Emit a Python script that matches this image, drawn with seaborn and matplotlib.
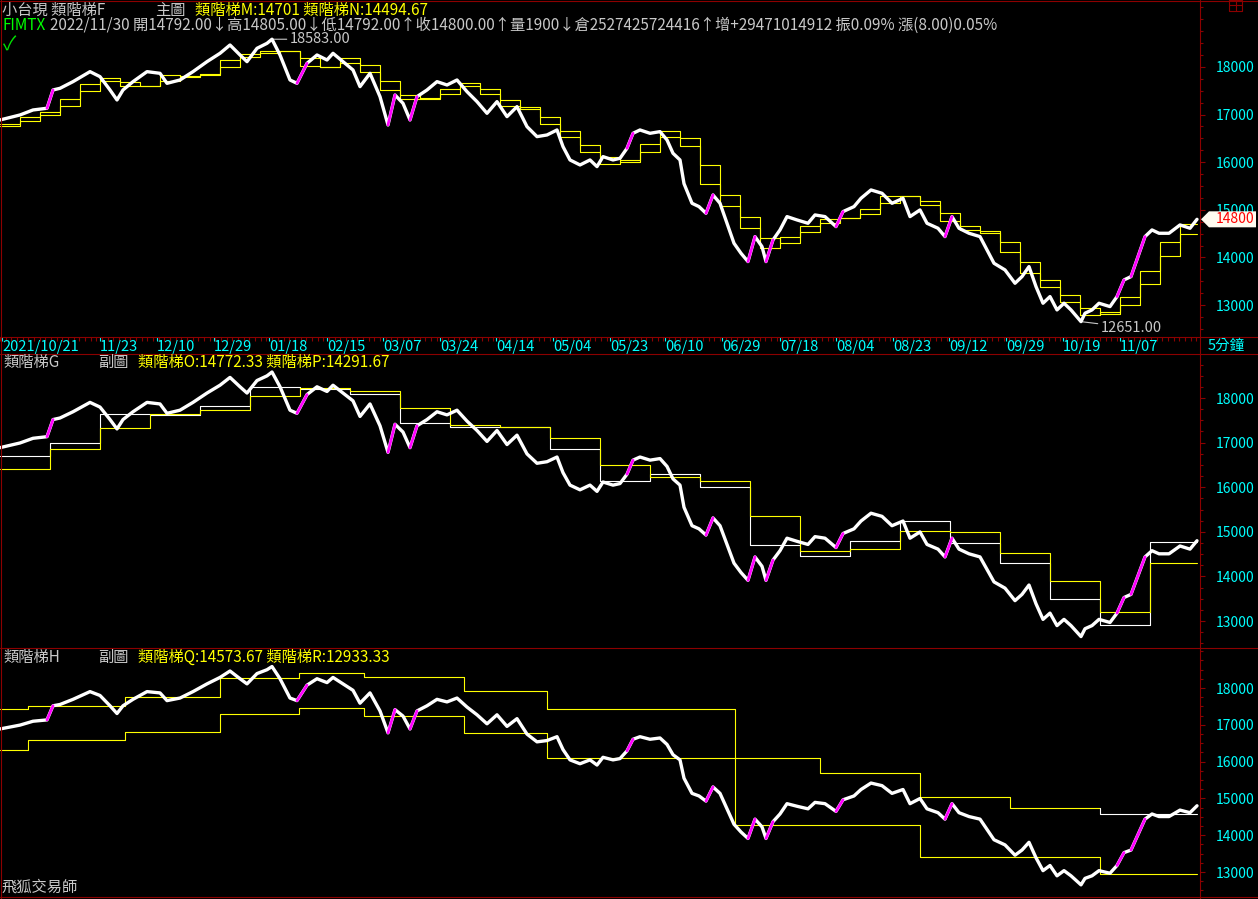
import numpy as np
import seaborn as sns
import matplotlib.pyplot as plt
from matplotlib.lines import Line2D
from matplotlib.patches import Polygon
from matplotlib.transforms import IdentityTransform
from matplotlib.ticker import MultipleLocator

# 5-minute bars, x = bar position on the chart
bar_pos = [0, 20, 33, 47, 53, 60, 73, 90, 100, 110, 117, 123, 133, 147, 160, 167, 180, 193,
           207, 220, 230, 240, 247, 257, 267, 272, 280, 290, 297, 307, 317, 327, 333, 343,
           353, 360, 370, 380, 388, 395, 403, 410, 417, 427, 437, 447, 457, 467, 477, 487,
           497, 507, 517, 527, 537, 547, 557, 563, 570, 580, 590, 597, 603, 613, 620, 627,
           633, 640, 650, 660, 667, 673, 680, 684, 692, 699, 706, 713, 720, 727, 734, 741,
           748, 755, 762, 766, 773, 780, 787, 797, 808, 815, 825, 836, 843, 854, 861, 871,
           882, 892, 903, 910, 920, 927, 938, 945, 952, 959, 969, 980, 987, 994, 1005, 1015,
           1022, 1029, 1036, 1043, 1050, 1057, 1064, 1071, 1081, 1085, 1092, 1099, 1110,
           1117, 1124, 1131, 1138, 1145, 1152, 1159, 1169, 1180, 1190, 1197]
close = [16887, 16992, 17097, 17133, 17517, 17552, 17692, 17902, 17797, 17517, 17307, 17517,
         17692, 17902, 17867, 17657, 17727, 17902, 18112, 18287, 18462, 18252, 18112, 18392,
         18497, 18583, 18252, 17727, 17657, 18077, 18252, 18147, 18287, 18112, 17937, 17587,
         17867, 17377, 16782, 17412, 17237, 16887, 17377, 17517, 17692, 17622, 17727, 17482,
         17272, 17027, 17272, 16957, 17167, 16747, 16537, 16572, 16677, 16327, 16047, 15942,
         16047, 15907, 16117, 16047, 16082, 16292, 16607, 16677, 16607, 16642, 16467, 16187,
         16047, 15550, 15137, 15067, 14927, 15312, 15137, 14717, 14297, 14087, 13912, 14437,
         14227, 13912, 14367, 14577, 14857, 14787, 14717, 14892, 14857, 14647, 14962, 15067,
         15242, 15417, 15347, 15137, 15242, 14857, 14997, 14717, 14612, 14437, 14857, 14612,
         14507, 14437, 14157, 13877, 13737, 13457, 13597, 13807, 13387, 13037, 13177, 12897,
         13037, 12897, 12651, 12827, 12897, 13037, 12967, 13177, 13527, 13597, 14017, 14437,
         14577, 14507, 14507, 14682, 14612, 14800]

# main chart stairs M / N
m_start = list(range(0, 1200, 20))
m_level = [16800, 16940, 17050, 17330, 17650, 17770, 17600, 17600, 17830, 17800,
           17860, 18140, 18270, 18340, 18340, 18020, 18000, 18185, 17900, 17510,
           17320, 17345, 17540, 17655, 17425, 17185, 17110, 16800, 16520, 16220,
           15970, 16040, 16380, 16660, 16345, 15550, 15090, 14620, 14190, 14430,
           14650, 14800, 14835, 15010, 15290, 15285, 15100, 14770, 14575, 14520,
           14120, 13680, 13380, 13070, 12800, 12850, 13165, 13720, 14330, 14701]
n_level = [16750, 16870, 17000, 17190, 17490, 17710, 17690, 17600, 17710, 17810,
           17830, 18000, 18200, 18300, 18340, 18180, 18010, 18090, 18040, 17700,
           17410, 17330, 17440, 17600, 17540, 17300, 17150, 16950, 16660, 16370,
           16100, 16000, 16210, 16520, 16500, 15950, 15320, 14850, 14400, 14310,
           14540, 14720, 14820, 14920, 15150, 15290, 15190, 14930, 14670, 14550,
           14320, 13900, 13530, 13220, 12930, 12820, 13000, 13440, 14030, 14494.67]

# sub chart G stairs O / P
o_start = list(range(0, 1200, 50))
o_level = [16700, 17000, 17650, 17620, 17830, 18250, 18200, 18100, 17450, 17350, 17350, 16850,
           16150, 16300, 16000, 14700, 14450, 14800, 15250, 14750, 14300, 13500, 12900, 14772.33]
p_level = [16400, 16850, 17325, 17635, 17725, 18040, 18225, 18150, 17775, 17400, 17350, 17100,
           16500, 16225, 16150, 15350, 14575, 14625, 15025, 15000, 14525, 13900, 13200, 14291.67]

# sub chart H stairs Q / R
q_start = [0, 28, 125, 220, 299, 364, 464, 547, 735, 820, 920, 1010, 1100]
q_level = [17421, 17519, 17764, 18264, 18399, 18290, 17927, 17421, 16100, 15700, 15040, 14740,
           14573.67]
q_color = ['y'] * 12 + ['w']
r_level = [16315, 16587, 16796, 17293, 17448, 17231, 16769, 16106, 14270, 14270, 13400, 13400,
           12933.33]
r_color = ['y'] * 13

date_pos = [2, 100, 157, 214, 269, 327, 383, 440, 496, 553, 610, 665, 722, 780, 836, 893,
            949, 1006, 1063, 1120]
date_lbl = ['2021/10/21', '11/23', '12/10', '12/29', '01/18', '02/15', '03/07', '03/24',
            '04/14', '05/04', '05/23', '06/10', '06/29', '07/18', '08/04', '08/23', '09/12',
            '09/29', '10/19', '11/07']
price_ticks = [13000, 14000, 15000, 16000, 17000, 18000]
quote = [14792.00, 14805.00, 14792.00, 14800.00]

W, H = 1258, 899
RED = '#8c0000'
GRAY = '#c8c8c8'
YEL = '#ffff00'
CYAN = '#00ffff'
COL = {'y': YEL, 'w': 'white'}

sns.set_style('dark')
plt.rcParams['font.family'] = ['Noto Sans CJK TC', 'DejaVu Sans']

fig = plt.figure(figsize=(W / 100, H / 100), dpi=100, facecolor='black')
pix = IdentityTransform()


def put(x, y, s, color=GRAY, size=11, **kw):
    fig.text(x, H - y, s, transform=pix, color=color, fontsize=size, va='center', **kw)


def fmt(v):
    return ('%.2f' % v).rstrip('0').rstrip('.')


def panel(top, bottom, lo, hi):
    ax = fig.add_axes([0, 1 - bottom / H, 1200 / W, (bottom - top) / H])
    ax.set_facecolor('black')
    ax.grid(False)
    for s in ax.spines.values():
        s.set_visible(False)
    ax.set_xlim(0, 1200)
    ax.set_ylim(lo, hi)
    ax.set_xticks([])
    ax.yaxis.tick_right()
    ax.set_yticks(price_ticks)
    ax.set_yticklabels([str(t) for t in price_ticks])
    ax.yaxis.set_minor_locator(MultipleLocator(250))
    ax.tick_params(axis='y', which='major', direction='out', length=3.6, width=0.8,
                   color=RED, labelcolor=CYAN, labelsize=10, pad=8)
    ax.tick_params(axis='y', which='minor', direction='out', length=1.8, width=0.8, color=RED)
    return ax


def stair(ax, starts, levels, color, lw=0.8):
    xs = list(starts) + [1197]
    ys = list(levels) + [levels[-1]]
    sns.lineplot(x=xs, y=ys, ax=ax, color=color, lw=lw, drawstyle='steps-post',
                 estimator=None, sort=False, legend=False)


def stair_multi(ax, starts, levels, colors, lw=0.8):
    ends = list(starts[1:]) + [1197]
    for i in range(len(levels)):
        xs = [starts[i], starts[i], ends[i]]
        ys = [levels[i - 1] if i else levels[i], levels[i], levels[i]]
        ax.plot(xs, ys, color=COL[colors[i]], lw=lw)


def price(ax):
    sns.lineplot(x=bar_pos, y=close, ax=ax, color='white', lw=2.4, estimator=None,
                 sort=False, legend=False, zorder=4)
    for i in range(1, len(close)):
        if close[i] - close[i - 1] > 300:
            ax.plot(bar_pos[i - 1:i + 1], close[i - 1:i + 1], color='#ff00ff', lw=2.0,
                    zorder=5)
    ax.set(xlabel='', ylabel='')


# main chart
ax1 = panel(1, 337, 12328, 19386)
stair(ax1, m_start, m_level, YEL)
stair(ax1, m_start, n_level, YEL)
price(ax1)
pk = int(np.argmax(close))
lw_ = int(np.argmin(close))
ax1.annotate(f'{close[pk]:.2f}', xy=(bar_pos[pk], close[pk]), xytext=(bar_pos[pk] + 18, close[pk]),
             color=GRAY, fontsize=10.5, va='center',
             arrowprops=dict(arrowstyle='-', color=GRAY, lw=0.8, shrinkA=0, shrinkB=0))
ax1.annotate(f'{close[lw_]:.2f}', xy=(bar_pos[lw_], close[lw_]),
             xytext=(bar_pos[lw_] + 20, close[lw_] - 130),
             color=GRAY, fontsize=10.5, va='center',
             arrowprops=dict(arrowstyle='-', color=GRAY, lw=0.8, shrinkA=0, shrinkB=0))

# date bar
axd = fig.add_axes([0, 1 - 354 / H, 1200 / W, 17 / H])
axd.set_facecolor('black')
axd.grid(False)
for s in axd.spines.values():
    s.set_visible(False)
axd.set_xlim(0, 1200)
axd.set_ylim(0, 1)
axd.set_yticks([])
axd.xaxis.set_ticks_position('top')
axd.set_xticks(date_pos)
axd.xaxis.set_minor_locator(MultipleLocator(5.67))
axd.tick_params(axis='x', which='major', direction='in', length=3, width=0.8, color=CYAN,
                labeltop=False, labelbottom=False)
axd.tick_params(axis='x', which='minor', direction='in', length=3, width=0.8, color=RED)
for p, s in zip(date_pos, date_lbl):
    axd.text(p, 0.42, s, color=CYAN, fontsize=10.5, ha='left', va='center')

# sub chart G
ax2 = panel(354, 648, 12395, 18987)
stair(ax2, o_start, o_level, 'white')
stair(ax2, o_start, p_level, YEL)
price(ax2)

# sub chart H
ax3 = panel(648, 897, 12321, 19087)
stair_multi(ax3, q_start, q_level, q_color)
stair_multi(ax3, q_start, r_level, r_color)
price(ax3)

# borders
for y in [0.5, 337, 354, 648, 896.5]:
    fig.add_artist(Line2D([0, W], [H - y, H - y], transform=pix, color=RED, lw=0.8))
for x in [0.5, 1200]:
    fig.add_artist(Line2D([x, x], [0, H], transform=pix, color=RED, lw=0.8))
for seg in [([1229, 1242, 1242, 1229, 1229], [0, 0, 11, 11, 0]), ([1236, 1236], [0, 11]),
            ([1229, 1242], [5, 5])]:
    fig.add_artist(Line2D(seg[0], [H - v for v in seg[1]], transform=pix, color=RED, lw=0.8))

# last price tag
yc = ax1.transData.transform((0, close[-1]))[1]
fig.add_artist(Polygon([[1201, yc], [1209, yc + 8], [1256, yc + 8], [1256, yc - 8], [1209, yc - 8]],
                       closed=True, transform=pix, fc='#fffbf0', ec='none', zorder=5))
fig.text(1216, yc, f'{close[-1]:.0f}', transform=pix, color='#ff0000', fontsize=10,
         va='center', zorder=6)

# header texts
put(2, 10, '小台現 類階梯F')
put(155, 10, '主圖')
put(195, 10, f'類階梯M:{fmt(m_level[-1])} 類階梯N:{fmt(n_level[-1])}', YEL)
put(3, 25, 'FIMTX', '#00ff00')
put(50, 25, f'2022/11/30 開{quote[0]:.2f}↓高{quote[1]:.2f}↓低{quote[2]:.2f}↑收{quote[3]:.2f}↑'
            '量1900↓倉2527425724416↑增+29471014912 振0.09% 漲(8.00)0.05%')
put(3, 45, '✓', '#00e000', size=14)
put(3, 362, '類階梯G')
put(98, 362, '副圖')
put(138, 362, f'類階梯O:{fmt(o_level[-1])} 類階梯P:{fmt(p_level[-1])}', YEL)
put(3, 657, '類階梯H')
put(98, 657, '副圖')
put(138, 657, f'類階梯Q:{fmt(q_level[-1])} 類階梯R:{fmt(r_level[-1])}', YEL)
put(2, 887, '飛狐交易師')
put(1208, 346, '5分鐘', CYAN, size=10.5)

fig.savefig('out.png', dpi=100, facecolor='black')
